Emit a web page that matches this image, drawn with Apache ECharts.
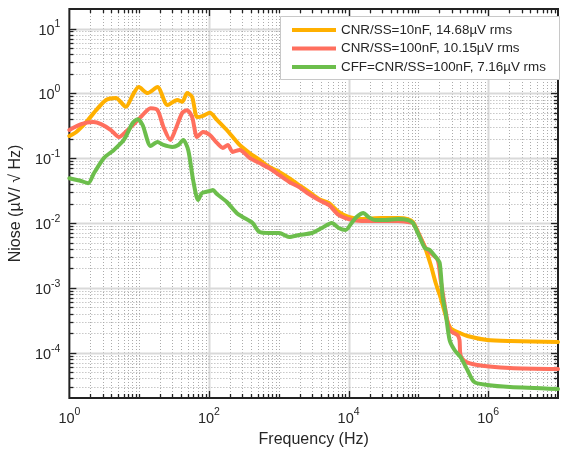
<!DOCTYPE html>
<html><head><meta charset="utf-8">
<script src="https://cdn.jsdelivr.net/npm/echarts@6/dist/echarts.min.js"></script>
<style>html,body{margin:0;padding:0;background:#fff}#c{width:561px;height:453px}</style>
</head><body><div id="c"></div>
<script>
// ---- data ----
const seriesNames = ['CNR/SS=10nF, 14.68µV rms', 'CNR/SS=100nF, 10.15µV rms', 'CFF=CNR/SS=100nF, 7.16µV rms'];
const seriesColors = ['#FFB000', '#FF6F5E', '#6CBE4C'];

const orangeFreq = [1, 1.257, 1.74, 2.42, 3.35, 4.64, 6.44, 8.09, 9.84, 13.2, 18.3, 25.4, 35.2, 41.4, 48.7, 57.4, 67.6, 82.2, 103, 130, 180, 275, 382, 529, 733, 1016, 1409, 1953, 2708, 3753, 5202, 7211, 10000, 15280, 29380, 51170, 70950, 83550, 98380, 123600, 150400, 177000, 208500, 237800, 262000, 289000, 363100, 503700, 968000, 2050000, 10000000];
const orangeNoise = [0.22, 0.254, 0.36, 0.55, 0.79, 0.85, 0.62, 0.94, 1.25, 1.01, 1.25, 0.66, 0.79, 0.74, 1.01, 0.88, 0.43, 0.45, 0.50, 0.39, 0.272, 0.160, 0.120, 0.094, 0.073, 0.061, 0.049, 0.0385, 0.0301, 0.0234, 0.0204, 0.0148, 0.0124, 0.0115, 0.0119, 0.0119, 0.0115, 0.01035, 0.00726, 0.00427, 0.00225, 0.00119, 0.000697, 0.000424, 0.000297, 0.000240, 0.000208, 0.000181, 0.000157, 0.000151, 0.000146];

const redFreq = [1, 1.48, 2.19, 2.84, 3.94, 5.12, 6.87, 10.5, 14.6, 18.3, 22.3, 28.0, 32.9, 41.4, 48.7, 57.4, 67.6, 82.2, 103, 130, 158, 186, 219, 275, 382, 529, 733, 1016, 1409, 1953, 2708, 3753, 5202, 7211, 10000, 15280, 29380, 51170, 70950, 83550, 98380, 123600, 136400, 150400, 189100, 208500, 237800, 262000, 289000, 363100, 388000, 400800, 457100, 698000, 2050000, 10000000];
const redNoise = [0.272, 0.336, 0.36, 0.336, 0.272, 0.212, 0.272, 0.43, 0.59, 0.55, 0.303, 0.191, 0.272, 0.50, 0.55, 0.43, 0.212, 0.254, 0.228, 0.172, 0.144, 0.160, 0.125, 0.134, 0.101, 0.084, 0.070, 0.055, 0.043, 0.0359, 0.028, 0.0226, 0.019, 0.0133, 0.0115, 0.0107, 0.0107, 0.0107, 0.01035, 0.0100, 0.00726, 0.00427, 0.00384, 0.00344, 0.00269, 0.00132, 0.000543, 0.000297, 0.000216, 0.000187, 0.000157, 0.000092, 0.0000744, 0.0000646, 0.0000581, 0.000056];

const greenFreq = [1, 1.48, 1.86, 2.26, 3.14, 4.35, 6.03, 8.09, 9.52, 11.2, 14.6, 18.3, 22.3, 29.9, 36.3, 42.8, 50.4, 59.3, 69.8, 79.6, 103, 114, 130, 180, 249, 303, 421, 529, 733, 1016, 1409, 1953, 2985, 4139, 5737, 7211, 9058, 11040, 12980, 16320, 19230, 24150, 33480, 51170, 70950, 83550, 98380, 123600, 145600, 177000, 201800, 222700, 245600, 280000, 329400, 400800, 503700, 632400, 968000, 2050000, 10000000];
const greenNoise = [0.049, 0.0445, 0.041, 0.059, 0.101, 0.134, 0.191, 0.35, 0.40, 0.325, 0.154, 0.178, 0.160, 0.149, 0.160, 0.191, 0.134, 0.046, 0.0226, 0.029, 0.0312, 0.0323, 0.028, 0.0211, 0.0143, 0.0124, 0.0100, 0.00726, 0.00701, 0.00701, 0.00608, 0.00653, 0.00701, 0.00837, 0.0100, 0.00837, 0.0078, 0.0100, 0.0124, 0.0143, 0.0124, 0.0111, 0.0111, 0.0115, 0.0111, 0.0100, 0.00701, 0.00412, 0.00384, 0.00299, 0.00242, 0.000722, 0.000409, 0.000157, 0.000110, 0.0000858, 0.0000541, 0.0000353, 0.0000317, 0.0000295, 0.0000275];

const xLabelExponents = [0, 2, 4, 6];
const yLabelExponents = [-4, -3, -2, -1, 0, 1];
const xMin = 1, xMax = 1e7, yMin = 2e-5, yMax = 20;
const xTitle = 'Frequency (Hz)';
const yTitle = 'Niose (µV/ √ Hz)';

// ---- grid-line / tick positions (mantissa 1..9 in every decade) ----
const xGrid = [];
for (let k = 0; k <= 7; k++) for (let m = 1; m <= 9; m++) {
  const v = m * Math.pow(10, k);
  if (v > xMin * 1.0001 && v < xMax * 0.9999) xGrid.push([v, 1, m === 1 && xLabelExponents.indexOf(k) >= 0 ? 2 : 0]);
}
const yGrid = [];
for (let k = -5; k <= 1; k++) for (let m = 1; m <= 9; m++) {
  const v = m * Math.pow(10, k);
  if (v > yMin * 1.0001 && v < yMax * 0.9999) yGrid.push([1, v, m === 1 ? 2 : 0]);
}

const FONT = '"Liberation Sans", Arial, sans-serif';
const TXT = '#262626';

function powLabel(v, allowed) {
  const e = Math.log10(v), r = Math.round(e);
  if (Math.abs(e - r) > 1e-6 || allowed.indexOf(r) < 0) return '';
  return '{b|10}{e|' + r + '}';
}
const rich = {
  b: { fontSize: 14.5, fontFamily: FONT, color: TXT, verticalAlign: 'bottom' },
  e: { fontSize: 10.5, fontFamily: FONT, color: TXT, verticalAlign: 'top' }
};

const dotted = { stroke: '#ababab', lineWidth: 1, lineDash: [1, 2] };
const solid = { stroke: '#d9d9d9', lineWidth: 2 };
const tickStyle = { stroke: '#222', lineWidth: 1.3 };

function renderV(params, api) {
  const cs = params.coordSys;
  const px = Math.round(api.coord([api.value(0), 1])[0]) + 0.5;
  const kind = api.value(2);
  const top = cs.y, bot = cs.y + cs.height;
  const tl = kind === 2 ? 7 : 4;
  return { type: 'group', children: [
    { type: 'line', shape: { x1: px, y1: top + 1, x2: px, y2: bot - 1 }, style: kind === 2 ? solid : dotted },
    { type: 'line', shape: { x1: px, y1: bot, x2: px, y2: bot - tl }, style: tickStyle },
    { type: 'line', shape: { x1: px, y1: top, x2: px, y2: top + tl }, style: tickStyle }
  ]};
}
function renderH(params, api) {
  const cs = params.coordSys;
  const py = Math.round(api.coord([1, api.value(1)])[1]) + 0.5;
  const kind = api.value(2);
  const l = cs.x, r = cs.x + cs.width;
  const tl = kind === 2 ? 7 : 4;
  return { type: 'group', children: [
    { type: 'line', shape: { x1: l + 1, y1: py, x2: r - 1, y2: py }, style: kind === 2 ? solid : dotted },
    { type: 'line', shape: { x1: l, y1: py, x2: l + tl, y2: py }, style: tickStyle },
    { type: 'line', shape: { x1: r, y1: py, x2: r - tl, y2: py }, style: tickStyle }
  ]};
}

function zip(a, b) { return a.map((f, i) => [f, b[i]]); }
const lineData = [zip(orangeFreq, orangeNoise), zip(redFreq, redNoise), zip(greenFreq, greenNoise)];

const chart = echarts.init(document.getElementById('c'), null, { renderer: 'canvas' });
chart.setOption({
  animation: false,
  backgroundColor: '#fff',
  textStyle: { fontFamily: FONT },
  grid: { left: 68, right: 1, top: 9, bottom: 55, show: true, borderColor: '#222', borderWidth: 2, backgroundColor: '#fff' },
  xAxis: {
    type: 'log', logBase: 10, min: xMin, max: xMax, splitNumber: 7,
    axisLine: { show: false }, axisTick: { show: false }, splitLine: { show: false },
    axisLabel: { formatter: v => powLabel(v, xLabelExponents), rich: rich, lineHeight: 19, margin: 9, hideOverlap: false },
    name: xTitle, nameLocation: 'middle', nameGap: 34,
    nameTextStyle: { fontSize: 16, color: TXT, fontFamily: FONT }
  },
  yAxis: {
    type: 'log', logBase: 10, min: yMin, max: yMax, splitNumber: 6,
    axisLine: { show: false }, axisTick: { show: false }, splitLine: { show: false },
    axisLabel: { formatter: v => powLabel(v, yLabelExponents), rich: rich, lineHeight: 19, margin: 9, hideOverlap: false },
    name: yTitle, nameLocation: 'middle', nameGap: 41, nameRotate: 90,
    nameTextStyle: { fontSize: 16, color: TXT, fontFamily: FONT }
  },
  legend: {
    data: seriesNames, orient: 'vertical', left: 292, top: 22, padding: 0, itemGap: 2.5,
    icon: 'rect', itemWidth: 44, itemHeight: 4, z: 60,
    textStyle: { fontSize: 13.4, color: TXT, fontFamily: FONT, lineHeight: 16 }
  },
  graphic: [{ type: 'rect', z: 50, shape: { x: 280.5, y: 16.5, width: 279, height: 63 }, style: { fill: '#fff', stroke: '#c8c8c8', lineWidth: 1 } }],
  series: [
    { type: 'custom', name: 'xgrid', data: xGrid, renderItem: renderV, encode: { x: 0, y: 1 }, silent: true, z: 1 },
    { type: 'custom', name: 'ygrid', data: yGrid, renderItem: renderH, encode: { x: 0, y: 1 }, silent: true, z: 1 }
  ].concat(seriesNames.map((n, i) => ({
    type: 'line', name: n, data: lineData[i], showSymbol: false, smooth: 0.25, z: 3 + i,
    color: seriesColors[i], lineStyle: { width: 4, color: seriesColors[i], cap: 'round', join: 'round' }
  })))
});
</script></body></html>
